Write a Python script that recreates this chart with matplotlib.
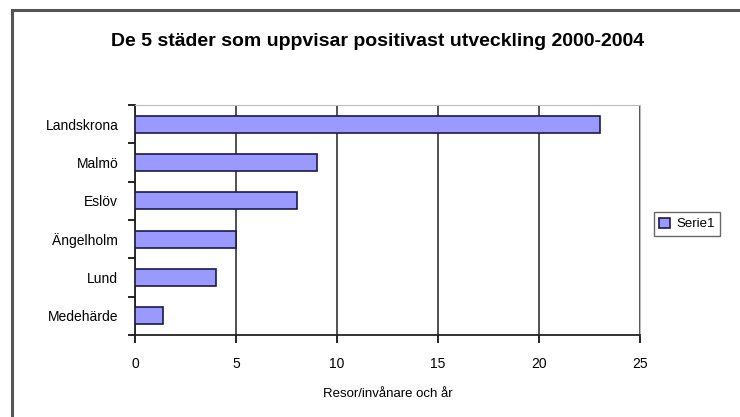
import numpy as np
import matplotlib.pyplot as plt
from matplotlib.patches import Rectangle

plt.rcParams['font.family'] = ['Liberation Sans', 'DejaVu Sans']

# Städer och resor per invånare och år
cities = ["Landskrona", "Malmö", "Eslöv", "Ängelholm", "Lund", "Medehärde"]
values = [23, 9, 8, 5, 4, 1.4]
xticks = [0, 5, 10, 15, 20, 25]

fig = plt.figure(figsize=(7.4, 4.17), dpi=100)

# Yttre ram runt hela diagrammet (går ut över kanten)
fig.patches.append(Rectangle((12 / 740, -0.05), 1.0, 1 - 10 / 417 + 0.05,
                             transform=fig.transFigure, fill=False,
                             edgecolor='#555555', linewidth=2.2, zorder=0))

ax = fig.add_axes([135 / 740, 1 - 335 / 417, 505 / 740, 230 / 417])

y = np.arange(len(cities))[::-1]
ax.barh(y, values, height=0.45, color='#9999ff', edgecolor='#1a1a4d',
        linewidth=1.2, label='Serie1', zorder=3)

ax.set_xlim(0, 25)
ax.set_ylim(-0.5, len(cities) - 0.5)
ax.set_xticks(xticks)
ax.set_xticklabels([str(t) for t in xticks], fontsize=10)
ax.set_yticks(y)
ax.set_yticklabels(cities, fontsize=10)
ax.tick_params(axis='y', length=0, pad=12)
ax.set_yticks(np.arange(-0.5, len(cities), 1.0), minor=True)
ax.tick_params(axis='y', which='minor', length=5, width=1.2, direction='out')
ax.tick_params(axis='x', length=6, width=1.2, direction='out', pad=10)

ax.grid(axis='x', color='#333333', linewidth=1.2, zorder=1)

for side in ['top', 'right']:
    ax.spines[side].set_color('#bbbbbb')
for side in ['left', 'bottom']:
    ax.spines[side].set_color('#222222')
    ax.spines[side].set_linewidth(1.3)

ax.set_xlabel("Resor/invånare och år", fontsize=9.5, labelpad=12)

fig.text(378 / 740, 1 - 42 / 417, "De 5 städer som uppvisar positivast utveckling 2000-2004",
         ha='center', va='center', fontsize=14, fontweight='bold')

leg = fig.legend(loc='center left', bbox_to_anchor=(654 / 740, 1 - 224 / 417),
                 fontsize=9.5, frameon=True, fancybox=False, edgecolor='#444444',
                 handlelength=0.8, handleheight=0.8, handletextpad=0.5,
                 borderpad=0.4, borderaxespad=0)

fig.savefig("out.png", dpi=100)
